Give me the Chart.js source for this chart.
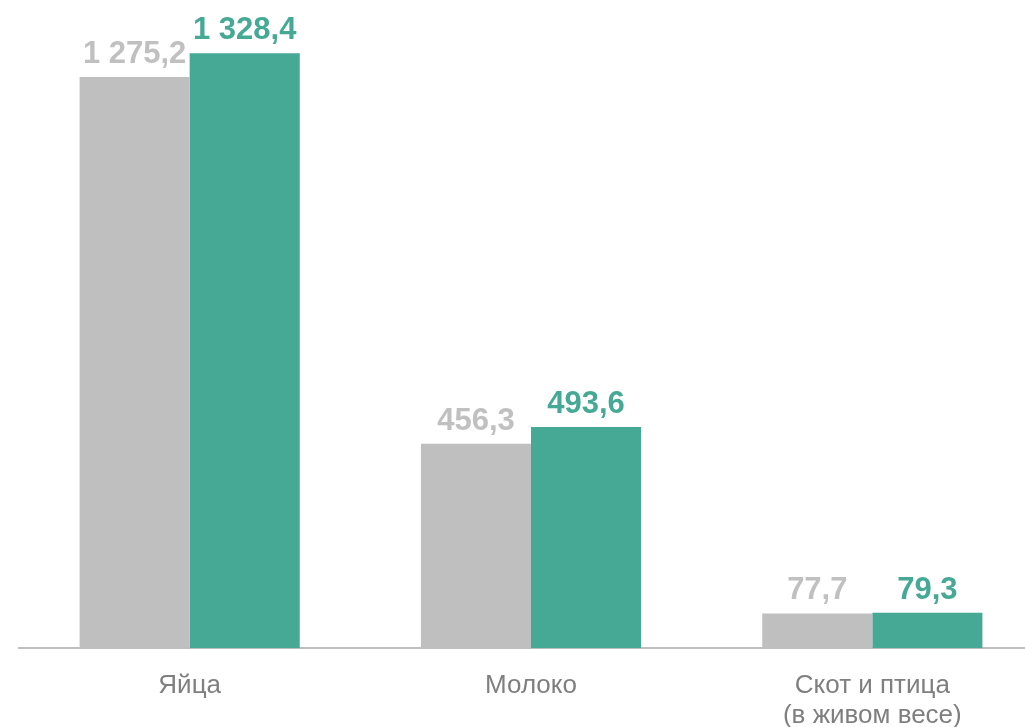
<!DOCTYPE html>
<html>
<head>
<meta charset="utf-8">
<script src="https://cdn.jsdelivr.net/npm/chart.js@4"></script>
<style>
  html, body { margin: 0; padding: 0; background: #fff; overflow: hidden; }
  #wrap { width: 1043px; height: 754px; position: relative; }
</style>
</head>
<body>
<div id="wrap"><canvas id="myChart"></canvas></div>
<script>
var categories = ["Яйца", "Молоко", ["Скот и птица", "(в живом весе)"]];
var prevValues = [1275.2, 456.3, 77.7];
var currValues = [1328.4, 493.6, 79.3];
var gray = "#bfbfbf", green = "#45a996";

function fmt(v){
    var s = v.toFixed(1).replace(".", ",");
    var parts = s.split(",");
    parts[0] = parts[0].replace(/\B(?=(\d{3})+(?!\d))/g, " ");
    return parts.join(",");
}

// value labels above bars
const barLabels = {
    id: "barLabels",
    afterDatasetsDraw(chart){
        const ctx = chart.ctx;
        ctx.save();
        ctx.font = "bold 31px 'Liberation Sans', Arial, sans-serif";
        ctx.textAlign = "center";
        ctx.textBaseline = "alphabetic";
        chart.data.datasets.forEach((ds, i) => {
            chart.getDatasetMeta(i).data.forEach((bar, j) => {
                ctx.fillStyle = ds.labelColor;
                ctx.fillText(fmt(ds.data[j]), bar.x, bar.y - 14);
            });
        });
        ctx.restore();
    }
};

new Chart("myChart", {
    type: "bar",
    data: {
        labels: categories,
        datasets: [
            { data: prevValues, backgroundColor: gray, labelColor: "#c0c0c0" },
            { data: currValues, backgroundColor: green, labelColor: green }
        ]
    },
    options: {
        responsive: true,
        maintainAspectRatio: false,
        animation: false,
        datasets: { bar: { categoryPercentage: 0.645, barPercentage: 1 } },
        layout: { padding: { left: 19, right: 0, top: 0, bottom: 0 } },
        plugins: { legend: { display: false }, tooltip: { enabled: false } },
        scales: {
            x: {
                grid: { display: false, drawTicks: false },
                border: { color: "#bfbfbf", width: 2 },
                ticks: {
                    color: "#7f7f7f",
                    padding: 23,
                    font: { family: "'Liberation Sans', Arial, sans-serif", size: 26, lineHeight: 1.15 }
                }
            },
            y: {
                display: false,
                min: 0,
                max: 1447
            }
        }
    },
    plugins: [barLabels]
});
</script>
</body>
</html>
